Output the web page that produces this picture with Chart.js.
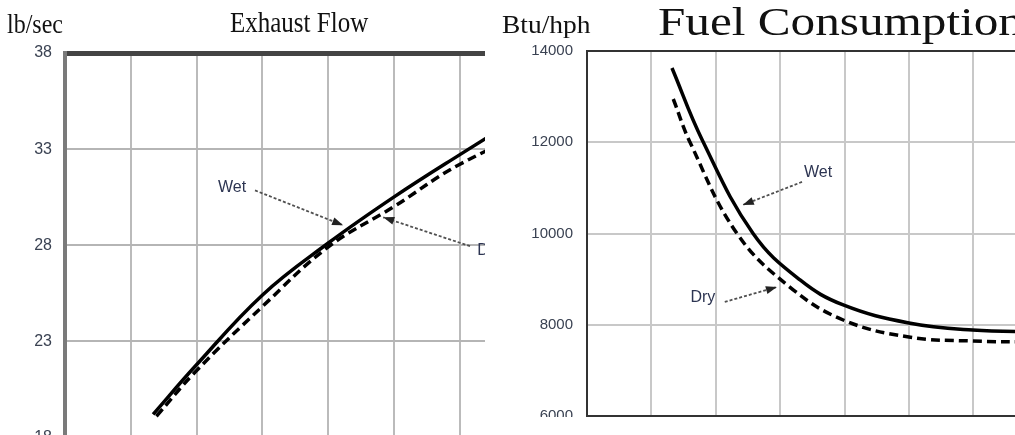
<!DOCTYPE html>
<html>
<head>
<meta charset="utf-8">
<script src="https://cdn.jsdelivr.net/npm/chart.js@4.4.1/dist/chart.umd.min.js"></script>
<style>
  body { margin: 0; background: #fff; width: 1015px; height: 435px; overflow: hidden; position: relative; }
  .box { position: absolute; top: 0; overflow: hidden; }
  .lbl {
    position: absolute;
    font-family: 'Liberation Serif', 'Times New Roman', serif;
    line-height: 1;
    white-space: nowrap;
    color: #111;
    transform-origin: 0 0.8375em;
  }
</style>
</head>
<body>
<div class="box" style="left:0;width:485px;height:435px">
  <canvas id="chartExhaust" width="600" height="460"></canvas>
</div>
<div class="box" style="left:490px;width:525px;height:417px">
  <canvas id="chartFuel" width="622" height="440"></canvas>
</div>

<div class="lbl" style="left:7px;top:13px;font-size:24px;transform:scaleY(1.15)">lb/sec</div>
<div class="lbl" style="left:230px;top:11px;font-size:25px;transform:scaleY(1.2)">Exhaust Flow</div>
<div class="lbl" style="left:502px;top:12px;font-size:25px;transform:scaleX(1.1)">Btu/hph</div>
<div class="lbl" style="left:658px;top:2px;font-size:40px;transform:scaleX(1.23)">Fuel Consumption</div>

<script>
// ===== Data =====
const exhaustTicks = [18, 23, 28, 33, 38];
const exhaustWetX = [1.34, 1.98, 3.0, 4.0, 5.0, 6.0, 7.5];
const exhaustWetY = [19.2, 21.7, 25.4, 28.1, 30.5, 32.7, 35.9];
const exhaustDryX = [1.39, 1.98, 3.0, 4.0, 5.0, 6.0, 7.5];
const exhaustDryY = [19.1, 21.4, 24.8, 27.9, 30.0, 32.2, 34.6];

const fuelTicks = [6000, 8000, 10000, 12000, 14000];
const fuelWetX = [1.32, 1.79, 2.58, 3.31, 3.98, 5.0, 5.99, 7.03];
const fuelWetY = [13627, 12050, 10000, 8981, 8433, 8038, 7884, 7840];
const fuelDryX = [1.34, 1.60, 2.33, 3.15, 3.98, 5.0, 5.99, 7.03];
const fuelDryY = [12948, 12000, 10000, 8827, 8104, 7731, 7643, 7621];

// labels + arrows (data units)
const exhaustNotes = [
  { text: 'Wet', at: [2.54, 31.0], align: 'center', from: [2.89, 30.85], to: [4.23, 29.04] },
  { text: 'Dry', at: [6.27, 27.7], align: 'left', from: [6.16, 27.95], to: [4.84, 29.45] }
];
const fuelNotes = [
  { text: 'Wet', at: [3.59, 11330], align: 'center', from: [3.34, 11130], to: [2.42, 10625] },
  { text: 'Dry', at: [1.80, 8590], align: 'center', from: [2.14, 8500], to: [2.95, 8827] }
];

function points(xs, ys) {
  return xs.map((x, i) => ({ x: x, y: ys[i] }));
}

// ===== Arrow annotations =====
const arrowPlugin = {
  id: 'arrows',
  afterDatasetsDraw(chart, args, opts) {
    const ctx = chart.ctx;
    const sx = chart.scales.x;
    const sy = chart.scales.y;
    (opts.items || []).forEach(n => {
      const x1 = sx.getPixelForValue(n.from[0]), y1 = sy.getPixelForValue(n.from[1]);
      const x2 = sx.getPixelForValue(n.to[0]), y2 = sy.getPixelForValue(n.to[1]);
      ctx.save();
      ctx.strokeStyle = '#505050';
      ctx.lineWidth = 1.8;
      ctx.setLineDash([3, 2]);
      ctx.beginPath();
      ctx.moveTo(x1, y1);
      ctx.lineTo(x2, y2);
      ctx.stroke();
      ctx.setLineDash([]);

      // head
      const a = Math.atan2(y2 - y1, x2 - x1);
      ctx.fillStyle = '#222';
      ctx.beginPath();
      ctx.moveTo(x2, y2);
      ctx.lineTo(x2 - 11 * Math.cos(a) + 4 * Math.sin(a), y2 - 11 * Math.sin(a) - 4 * Math.cos(a));
      ctx.lineTo(x2 - 11 * Math.cos(a) - 4 * Math.sin(a), y2 - 11 * Math.sin(a) + 4 * Math.cos(a));
      ctx.closePath();
      ctx.fill();

      ctx.fillStyle = '#2d3552';
      ctx.font = '16px "Liberation Sans", Arial, sans-serif';
      ctx.textAlign = n.align;
      ctx.textBaseline = 'middle';
      ctx.fillText(n.text, sx.getPixelForValue(n.at[0]), sy.getPixelForValue(n.at[1]));
      ctx.restore();
    });
  }
};

function lineSet(label, xs, ys, dashed) {
  return {
    label: label,
    data: points(xs, ys),
    borderColor: '#000',
    borderWidth: 3.5,
    borderDash: dashed ? [9, 5] : [],
    pointRadius: 0,
    fill: false,
    tension: 0.4
  };
}

let charts = {};

// ===== Exhaust Flow =====
charts.exhaust = new Chart(document.getElementById('chartExhaust'), {
  type: 'line',
  data: {
    datasets: [
      lineSet('Wet', exhaustWetX, exhaustWetY, false),
      lineSet('Dry', exhaustDryX, exhaustDryY, true)
    ]
  },
  options: {
    responsive: false,
    animation: false,
    layout: { autoPadding: false, padding: { top: 53, left: 0, right: 9, bottom: 21 } },
    plugins: {
      legend: { display: false },
      tooltip: { enabled: false },
      arrows: { items: exhaustNotes }
    },
    scales: {
      x: {
        type: 'linear',
        min: 0,
        max: 8,
        ticks: { display: false, stepSize: 1 },
        grid: { color: '#bbbbbb', lineWidth: 2, drawTicks: false },
        border: { display: false },
        afterFit: s => { s.height = 0; }
      },
      y: {
        min: exhaustTicks[0],
        max: exhaustTicks[exhaustTicks.length - 1],
        afterBuildTicks: s => { s.ticks = exhaustTicks.map(v => ({ value: v })); },
        afterFit: s => { s.width = 65; },
        ticks: {
          color: '#3a4252',
          padding: 13,
          font: { family: '"Liberation Sans", Arial, sans-serif', size: 16 },
          callback: v => String(v)
        },
        grid: {
          drawTicks: false,
          color: c => c.tick && c.tick.value === 38 ? '#444444' : '#b5b5b5',
          lineWidth: c => c.tick && c.tick.value === 38 ? 5 : 2
        },
        border: { color: '#7a7a7a', width: 4 }
      }
    }
  },
  plugins: [arrowPlugin]
});

// ===== Fuel Consumption =====
charts.fuel = new Chart(document.getElementById('chartFuel'), {
  type: 'line',
  data: {
    datasets: [
      lineSet('Wet', fuelWetX, fuelWetY, false),
      lineSet('Dry', fuelDryX, fuelDryY, true)
    ]
  },
  options: {
    responsive: false,
    animation: false,
    layout: { autoPadding: false, padding: { top: 51, left: 0, right: 10, bottom: 24 } },
    plugins: {
      legend: { display: false },
      tooltip: { enabled: false },
      arrows: { items: fuelNotes }
    },
    scales: {
      x: {
        type: 'linear',
        min: 0,
        max: 8,
        ticks: { display: false, stepSize: 1 },
        grid: { color: '#c8c8c8', lineWidth: 2, drawTicks: false },
        border: { color: '#333', width: 2 },
        afterFit: s => { s.height = 0; }
      },
      y: {
        min: fuelTicks[0],
        max: fuelTicks[fuelTicks.length - 1],
        afterBuildTicks: s => { s.ticks = fuelTicks.map(v => ({ value: v })); },
        afterFit: s => { s.width = 97; },
        ticks: {
          color: '#3a4252',
          padding: 14,
          font: { family: '"Liberation Sans", Arial, sans-serif', size: 15 },
          callback: v => String(v)
        },
        grid: {
          drawTicks: false,
          color: c => c.tick && c.tick.value === 14000 ? '#333333' : '#c8c8c8',
          lineWidth: 2
        },
        border: { color: '#333', width: 2 }
      }
    }
  },
  plugins: [arrowPlugin]
});
</script>
</body>
</html>
